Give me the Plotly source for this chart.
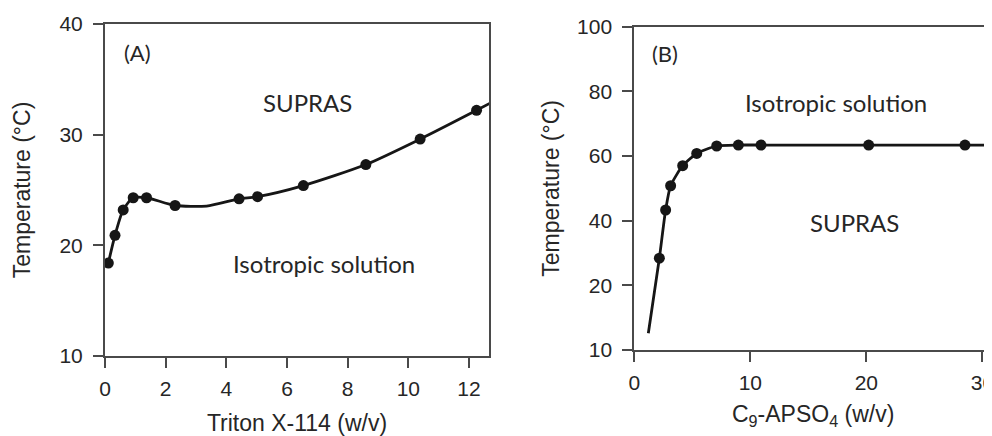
import plotly.graph_objects as go

# ---------------- Panel A: Triton X-114 ----------------
a_marker_x = [0.11, 0.33, 0.60, 0.93, 1.37, 2.31, 4.42, 5.03, 6.54, 8.60, 10.39, 12.25]
a_marker_y = [18.4, 20.9, 23.2, 24.3, 24.3, 23.6, 24.2, 24.4, 25.4, 27.3, 29.6, 32.2]
# curve (passes through markers, plus a plateau point and the exit at the frame)
a_curve_x = [0.11, 0.33, 0.60, 0.93, 1.37, 2.31, 3.35, 4.42, 5.03, 6.54, 8.60, 10.39, 12.25, 12.70]
a_curve_y = [18.4, 20.9, 23.2, 24.3, 24.3, 23.6, 23.55, 24.2, 24.4, 25.4, 27.3, 29.6, 32.2, 32.85]
a_xticks = [0, 2, 4, 6, 8, 10, 12]
a_yticks = [10, 20, 30, 40]

# ---------------- Panel B: C9-APSO4 ----------------
b_marker_x = [2.16, 2.70, 3.13, 4.17, 5.38, 7.10, 8.97, 10.92, 20.2, 28.5]
b_marker_y = [28.4, 43.3, 50.8, 57.0, 60.8, 63.1, 63.4, 63.4, 63.4, 63.4]
b_curve_x = [1.21, 2.16, 2.70, 3.13, 4.17, 5.38, 7.10, 8.97, 10.92, 20.2, 28.5, 31.5]
b_curve_y = [5.2, 28.4, 43.3, 50.8, 57.0, 60.8, 63.1, 63.4, 63.4, 63.4, 63.4, 63.4]
b_xticks = [0, 10, 20, 30]
b_ytickvals = [0, 20, 40, 60, 80, 100]
b_yticktext = ["10", "20", "40", "60", "80", "100"]

# the page body has an 8px margin, so the figure is laid out in page pixels minus 8
OFF = 8
W, H = 992 - OFF, 436 - OFF


def dx(px):
    return (px - OFF) / W


def dy(py):
    return 1 - (py - OFF) / H


INK = "#161616"
AXIS = "#4a4a4a"
TXT = "#262626"
TICKFONT = dict(family="Liberation Sans, Arial, sans-serif", size=21, color=TXT)
TITLEFONT = dict(family="Liberation Sans, Arial, sans-serif", size=23, color=TXT)
ANNFONT = dict(family="Lato, sans-serif", size=24, color=TXT)
LBLFONT = dict(family="Lato, sans-serif", size=22, color=TXT)

fig = go.Figure()

# Panel A traces
fig.add_trace(go.Scatter(x=a_curve_x, y=a_curve_y, mode="lines",
                         line=dict(color=INK, width=2.8, shape="spline", smoothing=0.7),
                         xaxis="x", yaxis="y", hoverinfo="skip", showlegend=False))
fig.add_trace(go.Scatter(x=a_marker_x, y=a_marker_y, mode="markers",
                         marker=dict(color=INK, size=11),
                         xaxis="x", yaxis="y", showlegend=False))

# Panel B traces
fig.add_trace(go.Scatter(x=b_curve_x, y=b_curve_y, mode="lines",
                         line=dict(color=INK, width=2.8, shape="spline", smoothing=0.6),
                         xaxis="x2", yaxis="y2", hoverinfo="skip", showlegend=False))
fig.add_trace(go.Scatter(x=b_marker_x, y=b_marker_y, mode="markers",
                         marker=dict(color=INK, size=11),
                         xaxis="x2", yaxis="y2", showlegend=False))

common = dict(showgrid=False, zeroline=False, showline=True, linecolor=AXIS, linewidth=2,
              ticks="outside", ticklen=10, tickwidth=2, tickcolor=AXIS,
              tickfont=TICKFONT, automargin=False, ticklabeloverflow="allow")

fig.update_layout(
    width=W, height=H,
    margin=dict(l=0, r=0, t=0, b=0),
    paper_bgcolor="white", plot_bgcolor="white",
    xaxis=dict(domain=[dx(105), dx(489)], range=[0, 12.66], tickvals=a_xticks,
               mirror=True, anchor="y", ticklabelstandoff=3,
               title=dict(text="Triton X-114 (w/v)", font=TITLEFONT, standoff=18), **common),
    yaxis=dict(domain=[dy(356), dy(24)], range=[10, 40], tickvals=a_yticks,
               mirror=True, anchor="x", ticklabelstandoff=6,
               title=dict(text="Temperature (°C)", font=TITLEFONT, standoff=22), **common),
    xaxis2=dict(domain=[dx(634.3), 1.0], range=[0, 30.83], tickvals=b_xticks,
                mirror=True, anchor="y2", ticklabelstandoff=3,
                title=dict(text="C<sub>9</sub>-APSO<sub>4</sub> (w/v)", font=TITLEFONT, standoff=13),
                **common),
    yaxis2=dict(domain=[dy(350), dy(26.7)], range=[0, 100], tickvals=b_ytickvals,
                ticktext=b_yticktext, mirror=False, anchor="x2", ticklabelstandoff=6,
                title=dict(text="Temperature (°C)", font=TITLEFONT, standoff=11), **common),
)

ann = [
    dict(text="(A)", x=1.06, y=37.46, xref="x", yref="y", font=LBLFONT),
    dict(text="SUPRAS", x=6.69, y=32.95, xref="x", yref="y", font=ANNFONT),
    dict(text="Isotropic solution", x=7.22, y=18.4, xref="x", yref="y", font=ANNFONT),
    dict(text="(B)", x=2.65, y=91.6, xref="x2", yref="y2", font=LBLFONT),
    dict(text="Isotropic solution", x=17.4, y=76.7, xref="x2", yref="y2", font=ANNFONT),
    dict(text="SUPRAS", x=19.0, y=39.3, xref="x2", yref="y2", font=ANNFONT),
]
for a in ann:
    fig.add_annotation(showarrow=False, xanchor="center", yanchor="middle", **a)

fig.write_html("out.html")
